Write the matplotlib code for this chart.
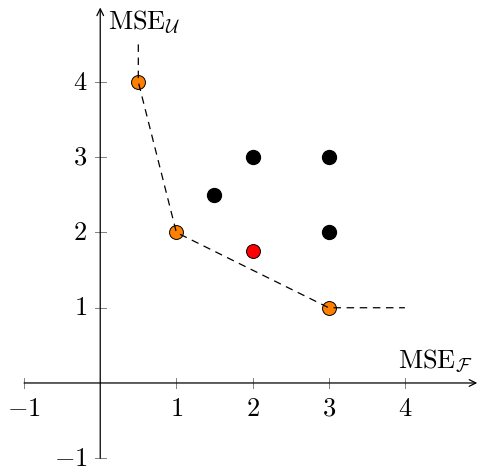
import matplotlib.pyplot as plt

plt.rcParams['mathtext.fontset'] = 'cm'
plt.rcParams['font.family'] = 'serif'
plt.rcParams['font.serif'] = ['DejaVu Serif']

# Pareto front (orange), dominated points (black), extra point (red)
front_x = [0.5, 1, 3]
front_y = [4, 2, 1]
dominated_x = [1.5, 2, 3, 3]
dominated_y = [2.5, 3, 3, 2]
extra_x = [2]
extra_y = [1.75]

# dashed frontier, extended upward and to the right
frontier_x = [0.5, 0.5, 1, 3, 4]
frontier_y = [4.5, 4, 2, 1, 1]

x_ticks = [-1, 1, 2, 3, 4]
y_ticks = [-1, 1, 2, 3, 4]

fig = plt.figure(figsize=(4.78, 4.68), dpi=100)
ax = fig.add_axes([0, 0, 1, 1])
ax.set_xlim(-1.316, 4.96)
ax.set_ylim(-1.13, 5.09)
ax.axis('off')

# axes with arrows
arrow = dict(arrowstyle='->', color='black', lw=0.9,
             shrinkA=0, shrinkB=0, mutation_scale=12)
ax.annotate('', xy=(4.95, 0), xytext=(-1, 0), arrowprops=arrow,
            annotation_clip=False)
ax.annotate('', xy=(0, 4.99), xytext=(0, -1), arrowprops=arrow,
            annotation_clip=False)

# ticks and labels
tick_len = 0.07
for t in x_ticks:
    ax.plot([t, t], [-tick_len, tick_len], color='gray', lw=0.7)
    ax.text(t, -0.17, r'$%d$' % t, ha='center', va='top', fontsize=19)
for t in y_ticks:
    ax.plot([-tick_len, tick_len], [t, t], color='gray', lw=0.7)
    ax.text(-0.17, t, r'$%d$' % t, ha='right', va='center', fontsize=19)

ax.text(4.9, 0.12, r'$\mathrm{MSE}_{\mathcal{F}}$', ha='right', va='bottom', fontsize=19)
ax.text(0.1, 4.62, r'$\mathrm{MSE}_{\mathcal{U}}$', ha='left', va='bottom', fontsize=19)

ax.plot(front_x, front_y, 'o', color='#ff8000', mec='black', mew=0.7, ms=10, zorder=3)
ax.plot(dominated_x, dominated_y, 'o', color='black', ms=10, zorder=3)
ax.plot(extra_x, extra_y, 'o', color='red', mec='black', mew=0.7, ms=10, zorder=3)
ax.plot(frontier_x, frontier_y, color='black', lw=0.9, dashes=(6, 4.5), zorder=4)

fig.savefig('out.png', dpi=100)
